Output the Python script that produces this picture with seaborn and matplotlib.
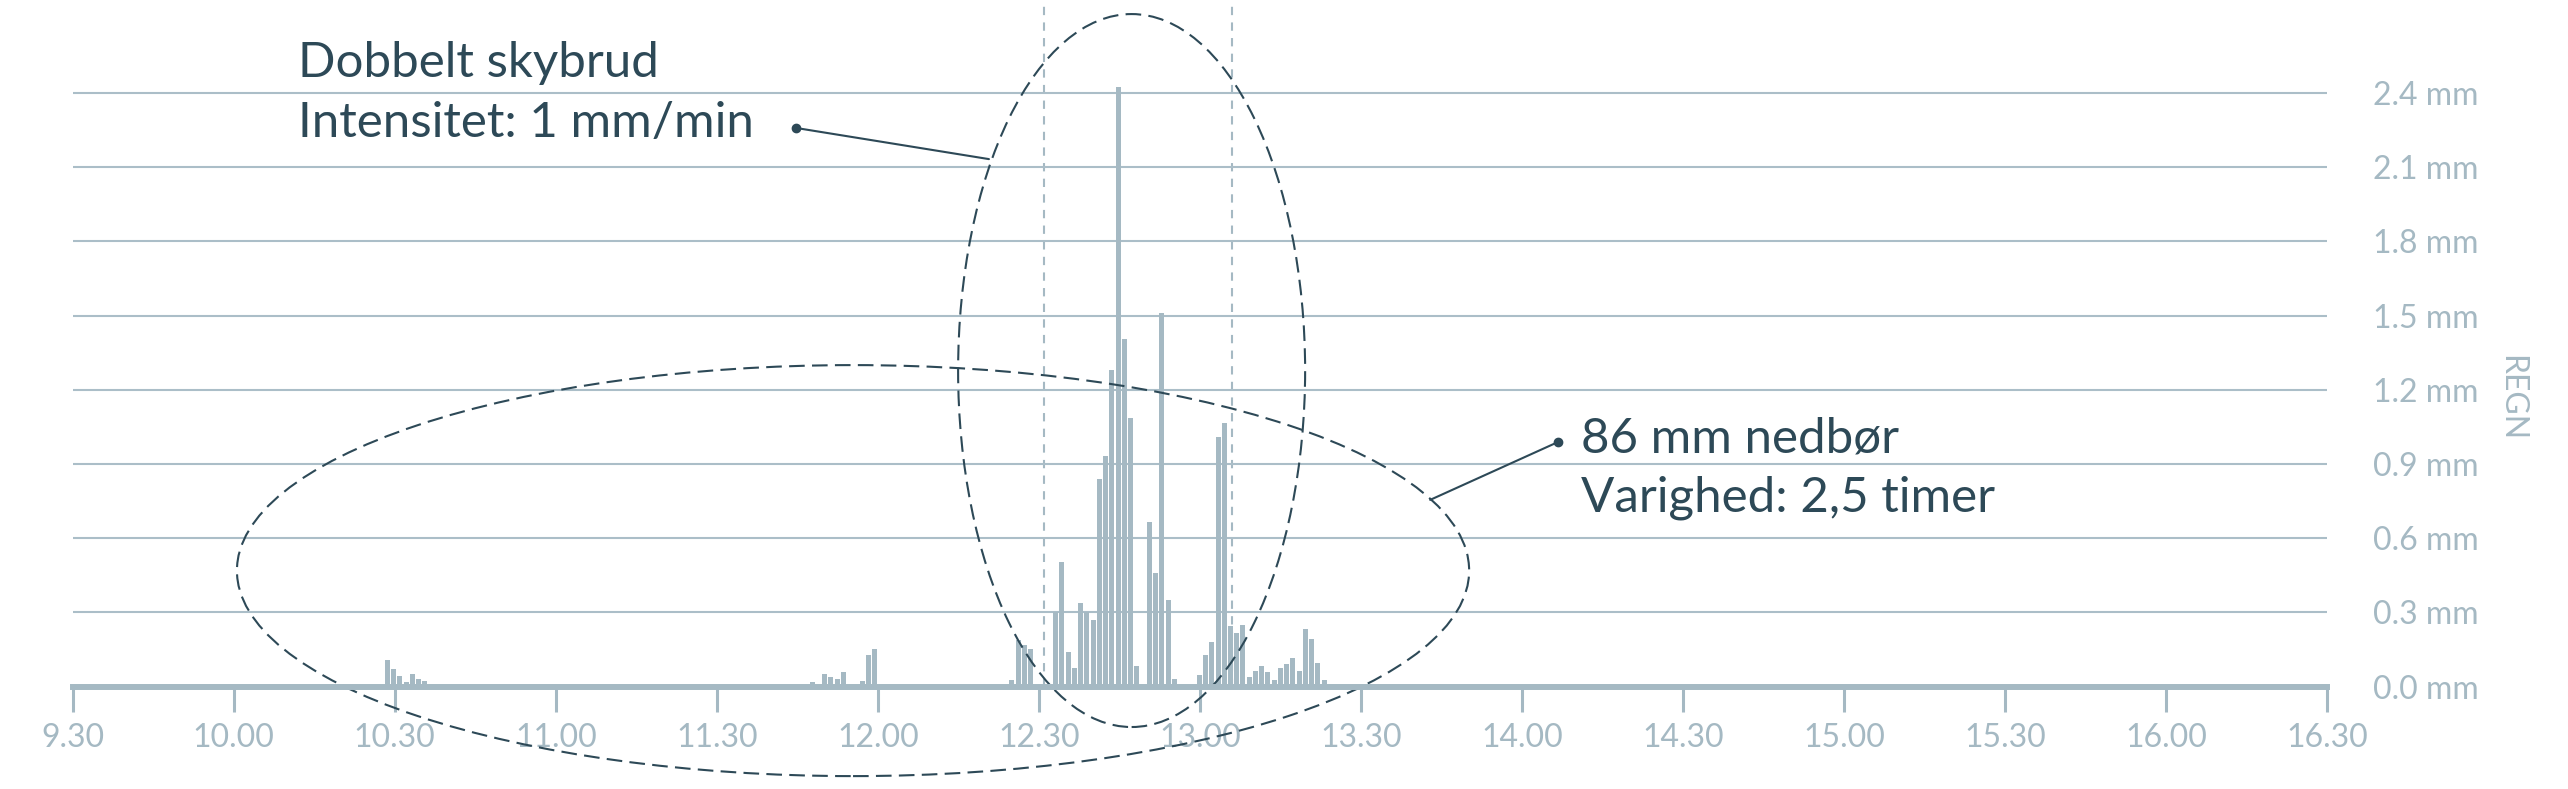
import numpy as np
import pandas as pd
import matplotlib.pyplot as plt
import seaborn as sns
from matplotlib.patches import Ellipse

# rain per measurement slot, slots counted from 9.30
slot = [50, 51, 52, 53, 54, 55, 56,
        118, 120, 121, 122, 123, 126, 127, 128,
        150, 151, 152, 153, 157, 158, 159, 160, 161, 162, 163, 164, 165,
        166, 167, 168, 169, 170, 172, 173, 174, 175, 176,
        180, 181, 182, 183, 184, 185, 186, 187, 188, 189, 190, 191, 192,
        193, 194, 195, 196, 197, 198, 199, 200]
rain = [0.108, 0.072, 0.042, 0.018, 0.050, 0.031, 0.023,
        0.018, 0.052, 0.040, 0.030, 0.060, 0.023, 0.128, 0.150,
        0.026, 0.188, 0.170, 0.150, 0.300, 0.502, 0.140, 0.076, 0.340, 0.300, 0.268, 0.841, 0.931,
        1.281, 2.423, 1.407, 1.088, 0.083, 0.666, 0.461, 1.511, 0.352, 0.030,
        0.046, 0.126, 0.179, 1.010, 1.064, 0.246, 0.217, 0.251, 0.040, 0.063, 0.083, 0.058, 0.028,
        0.076, 0.091, 0.116, 0.063, 0.233, 0.192, 0.096, 0.028]

time_labels = ["9.30", "10.00", "10.30", "11.00", "11.30", "12.00", "12.30", "13.00",
               "13.30", "14.00", "14.30", "15.00", "15.30", "16.00", "16.30"]
mm_ticks = [0.0, 0.3, 0.6, 0.9, 1.2, 1.5, 1.8, 2.1, 2.4]
window = ["12.31", "13.06"]  # dashed markers around the double cloudburst

note1 = ["Dobbelt skybrud", "Intensitet: 1 mm/min"]
note2 = ["86 mm nedbør", "Varighed: 2,5 timer"]

def hours(s):
    h, m = s.split(".")
    return int(h) + int(m) / 60

T0, T1 = hours(time_labels[0]), hours(time_labels[-1])
SLOT_H = (T1 - T0) / 361

LIGHT = "#a5b9c3"
DARK = "#2d4957"

sns.set_style("white")
plt.rcParams["font.family"] = ["Lato", "DejaVu Sans"]

fig = plt.figure(figsize=(25.68, 7.89), dpi=100)
ax = fig.add_axes([0.0283, 0.1298, 0.8779, 0.8702])

df = pd.DataFrame({"t": T0 + (np.array(slot) + 0.4) * SLOT_H, "mm": rain})
sns.barplot(data=df, x="t", y="mm", native_scale=True, width=0.8, color=LIGHT,
            saturation=1, errorbar=None, linewidth=0, ax=ax)

ax.set_xlim(T0, T1)
ax.set_ylim(0, 686.6 / 247.3)
ax.set_axisbelow(True)
ax.grid(axis="y", color="#abbec8", lw=1.5)
ax.grid(axis="x", visible=False)
for s in ["left", "right", "top"]:
    ax.spines[s].set_visible(False)
ax.spines["bottom"].set_color(LIGHT)
ax.spines["bottom"].set_linewidth(4.3)

ax.set_xticks([hours(s) for s in time_labels])
ax.set_xticklabels(time_labels)
ax.set_xticks([T0, T1], minor=True)
ax.tick_params(axis="x", which="major", bottom=True, direction="out", length=18, width=2.2,
               color=LIGHT, labelcolor=LIGHT, labelsize=23, pad=8)
ax.tick_params(axis="x", which="minor", bottom=True, direction="out", length=18, width=4.5,
               color=LIGHT)

ax.yaxis.tick_right()
ax.set_yticks(mm_ticks)
ax.set_yticklabels([f"{v:.1f} mm" for v in mm_ticks])
ax.tick_params(axis="y", length=0, labelcolor=LIGHT, labelsize=23, pad=109)
for lab in ax.get_yticklabels():
    lab.set_ha("right")
ax.set_xlabel("")
ax.set_ylabel("REGN", color=LIGHT, fontsize=23, rotation=270, labelpad=0)
ax.yaxis.set_label_position("right")
ax.yaxis.set_label_coords(1.0883, 0.42)

for w in window:
    ax.axvline(hours(w), color=LIGHT, lw=1.5, ls=(0, (4, 3.5)), zorder=0.5)

ax.add_patch(Ellipse((12.788, 1.278), 1.0775, 2.883, fill=False, ec=DARK, lw=1.5,
                     ls=(0, (7.5, 3.5)), clip_on=False))
ax.add_patch(Ellipse((11.923, 0.469), 3.826, 1.662, fill=False, ec=DARK, lw=1.5,
                     ls=(0, (7.5, 3.5)), clip_on=False))

ax.plot([11.746, 12.345], [2.259, 2.133], color=DARK, lw=1.5, clip_on=False)
ax.plot([11.746], [2.259], "o", color=DARK, ms=6, clip_on=False)
ax.plot([14.112, 13.715], [0.989, 0.755], color=DARK, lw=1.5, clip_on=False)
ax.plot([14.112], [0.989], "o", color=DARK, ms=6, clip_on=False)

ax.text(10.200, 2.466, note1[0], color=DARK, fontsize=35.5, va="baseline", ha="left")
ax.text(10.200, 2.224, note1[1], color=DARK, fontsize=35.5, va="baseline", ha="left")
ax.text(14.182, 0.945, note2[0], color=DARK, fontsize=35.5, va="baseline", ha="left")
ax.text(14.182, 0.706, note2[1], color=DARK, fontsize=35.5, va="baseline", ha="left")

fig.savefig("out.png", dpi=100)
